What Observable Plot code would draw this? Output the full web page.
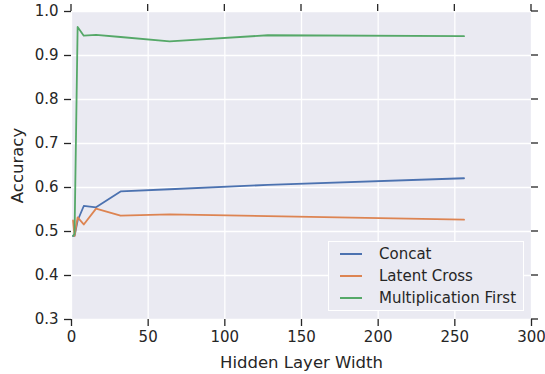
<!DOCTYPE html>
<html>
<head>
<meta charset="utf-8">
<script src="https://cdn.jsdelivr.net/npm/d3@7"></script>
<script src="https://cdn.jsdelivr.net/npm/@observablehq/plot@0.6"></script>
<style>
  html, body { margin: 0; padding: 0; background: #fff; }
  #wrap { position: relative; width: 545px; height: 374px; font-family: "DejaVu Sans", sans-serif; }
  #legend { position: absolute; left: 328px; top: 241px; width: 194px; height: 68px;
    border: 1px solid #ffffff; background: #EAEAF2; box-sizing: content-box; }
  .row { position: absolute; left: 0; height: 22px; display: flex; align-items: center; }
  .sw { width: 22px; height: 2px; margin-left: 11px; margin-right: 17px; }
  .lab { font-size: 15px; color: #262626; white-space: nowrap; }
</style>
</head>
<body>
<div id="wrap"></div>
<script>
const widths = [1, 2, 4, 8, 16, 32, 64, 128, 256];
const concat = [0.49, 0.49, 0.525, 0.558, 0.555, 0.591, 0.596, 0.606, 0.621];
const latentCross = [0.525, 0.49, 0.532, 0.516, 0.552, 0.536, 0.539, 0.535, 0.527];
const multFirst = [0.49, 0.495, 0.965, 0.945, 0.947, 0.942, 0.932, 0.946, 0.944];
const seriesNames = ["Concat", "Latent Cross", "Multiplication First"];
const seriesColors = ["#4C72B0", "#DD8452", "#55A868"];
const xTicks = [0, 50, 100, 150, 200, 250, 300];
const yTicks = [0.3, 0.4, 0.5, 0.6, 0.7, 0.8, 0.9, 1.0];
const xDomain = [0, 300];
const yDomain = [0.3, 1.0];

const seriesValues = [concat, latentCross, multFirst];
const data = [];
seriesNames.forEach((name, i) => {
  widths.forEach((w, j) => data.push({series: name, width: w, acc: seriesValues[i][j]}));
});

const W = 545, H = 374, mL = 71, mR = 14, mT = 11, mB = 55;
const tickLen = 7;
const ink = "#262626";
const chart = Plot.plot({
  width: W,
  height: H,
  marginLeft: mL,
  marginRight: mR,
  marginTop: mT,
  marginBottom: mB,
  style: {fontFamily: "DejaVu Sans, sans-serif", fontSize: "15px", color: ink, background: "#fff", overflow: "visible"},
  x: {domain: xDomain},
  y: {domain: yDomain},
  color: {domain: seriesNames, range: seriesColors},
  marks: [
    Plot.frame({fill: "#EAEAF2", stroke: null}),
    Plot.gridX(xTicks, {stroke: "#fff", strokeOpacity: 1, strokeWidth: 1.3}),
    Plot.gridY(yTicks, {stroke: "#fff", strokeOpacity: 1, strokeWidth: 1.3}),
    Plot.line(data, {x: "width", y: "acc", z: "series", stroke: "series", strokeWidth: 1.8}),
    Plot.axisX(xTicks, {anchor: "bottom", tickSize: tickLen, tickPadding: 5, stroke: ink, strokeWidth: 1.3,
      fill: ink, fontSize: 15, tickFormat: d => String(d), label: null}),
    Plot.axisX({anchor: "bottom", ticks: [], label: "Hidden Layer Width", labelAnchor: "center",
      labelArrow: "none", labelOffset: 48, fontSize: 16.5, fill: ink}),
    Plot.axisY(yTicks, {anchor: "left", tickSize: tickLen, tickPadding: 6, stroke: ink, strokeWidth: 1.3,
      fill: ink, fontSize: 15, tickFormat: d3.format(".1f"), label: null}),
    Plot.axisY({anchor: "left", ticks: [], label: "Accuracy", labelAnchor: "center",
      labelArrow: "none", labelOffset: 60, fontSize: 16.5, fill: ink})
  ]
});
const wrap = document.getElementById("wrap");
wrap.appendChild(chart);

// mirrored tick marks on the top and right edges, placed with Plot's own scales
const xs = chart.scale("x"), ys = chart.scale("y");
const svg = d3.select(chart);
const g = svg.append("g").attr("stroke", ink).attr("stroke-width", 1.3);
g.selectAll("line.top").data(xTicks).join("line").attr("class", "top")
  .attr("x1", d => xs.apply(d)).attr("x2", d => xs.apply(d))
  .attr("y1", mT).attr("y2", mT - tickLen);
g.selectAll("line.right").data(yTicks).join("line").attr("class", "right")
  .attr("y1", d => ys.apply(d)).attr("y2", d => ys.apply(d))
  .attr("x1", W - mR).attr("x2", W - mR + tickLen);

const legend = document.createElement("div");
legend.id = "legend";
seriesNames.forEach((name, i) => {
  const row = document.createElement("div");
  row.className = "row";
  row.style.top = (1 + i * 22) + "px";
  row.innerHTML = `<div class="sw" style="background:${seriesColors[i]}"></div><span class="lab">${name}</span>`;
  legend.appendChild(row);
});
wrap.appendChild(legend);
</script>
</body>
</html>
